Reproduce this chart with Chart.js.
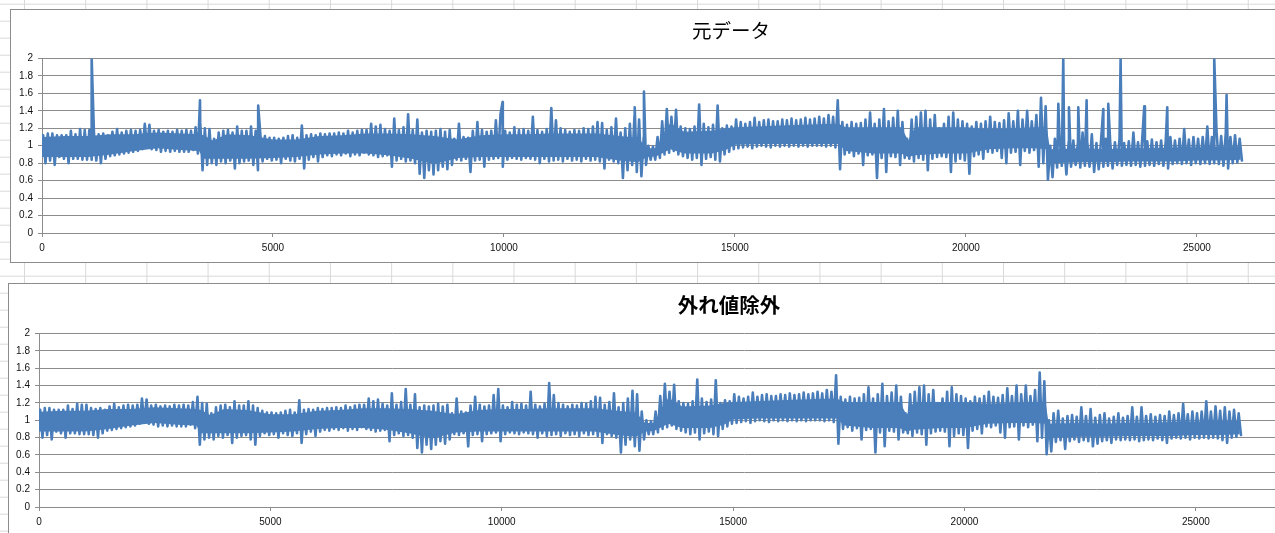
<!DOCTYPE html>
<html lang="ja">
<head>
<meta charset="utf-8">
<title>元データ / 外れ値除外</title>
<script src="https://cdn.jsdelivr.net/npm/chart.js@4.4.1/dist/chart.umd.min.js"></script>
<style>
  html, body { margin: 0; padding: 0; }
  body {
    width: 1275px; height: 533px; overflow: hidden; position: relative;
    background-color: #fff;
    /* worksheet cell grid behind the two charts */
    background-image:
      linear-gradient(to right, #d9d9d9 1px, transparent 1px),
      linear-gradient(to bottom, #d9d9d9 1px, transparent 1px);
    background-size: 61.2px 100%, 100% 17px;
    background-position: 24px 0, 0 3.7px;
  }
  .panel { position: absolute; background: #fff; border: 1px solid #8c8c8c; overflow: hidden; }
  #p1 { left: 10px; top: 9px; width: 1440px; height: 252px; }
  #p2 { left: 8px; top: 283px; width: 1440px; height: 260px; }
  canvas { position: absolute; left: 0; top: 0; }
</style>
</head>
<body>
<div class="panel" id="p1"><canvas id="c1" width="1440" height="252"></canvas></div>
<div class="panel" id="p2"><canvas id="c2" width="1440" height="252"></canvas></div>
<script>
// Series sampled in blocks of 100 rows: highest and lowest value of each block
// (cleaned series, outliers removed). Block k covers rows k*100 .. k*100+99.
const blockSize = 100;
const blockHigh = [
  1.12,1.14,1.14,1.12,1.12,1.12,1.17,1.13,1.19,1.18,
  1.18,1.14,1.13,1.14,1.12,1.16,1.19,1.15,1.17,1.18,
  1.17,1.18,1.25,1.24,1.17,1.18,1.16,1.17,1.16,1.18,
  1.17,1.18,1.17,1.21,1.27,1.20,1.19,1.08,1.15,1.17,
  1.18,1.15,1.22,1.17,1.17,1.22,1.17,1.14,1.11,1.09,
  1.09,1.08,1.09,1.11,1.12,1.09,1.23,1.12,1.13,1.12,
  1.14,1.13,1.14,1.14,1.15,1.14,1.17,1.15,1.17,1.18,
  1.18,1.25,1.22,1.24,1.19,1.17,1.31,1.18,1.21,1.36,
  1.18,1.30,1.15,1.17,1.16,1.17,1.19,1.16,1.18,1.08,
  1.25,1.10,1.09,1.17,1.27,1.18,1.16,1.17,1.29,1.36,
  1.17,1.15,1.21,1.18,1.19,1.17,1.33,1.18,1.16,1.19,
  1.43,1.29,1.20,1.18,1.16,1.18,1.17,1.20,1.19,1.22,
  1.27,1.26,1.18,1.21,1.31,1.15,1.20,1.25,1.34,1.30,
  1.10,1.00,0.99,1.10,1.28,1.42,1.33,1.41,1.22,1.20,
  1.19,1.22,1.47,1.25,1.21,1.24,1.46,1.20,1.23,1.22,
  1.30,1.27,1.25,1.27,1.32,1.27,1.29,1.30,1.28,1.28,
  1.30,1.29,1.31,1.29,1.30,1.32,1.30,1.31,1.33,1.31,
  1.35,1.33,1.52,1.27,1.24,1.27,1.25,1.26,1.30,1.38,
  1.25,1.30,1.42,1.28,1.32,1.40,1.27,1.08,1.30,1.33,
  1.38,1.40,1.30,1.35,1.20,1.25,1.33,1.38,1.30,1.28,
  1.25,1.22,1.27,1.25,1.28,1.33,1.27,1.26,1.29,1.37,
  1.28,1.40,1.30,1.40,1.28,1.35,1.55,1.45,1.00,1.08,
  1.11,1.02,1.05,1.06,1.04,1.15,1.05,1.13,1.03,1.06,
  1.08,1.02,1.04,1.08,1.03,1.05,1.15,1.04,1.15,1.05,
  1.07,1.04,1.06,1.05,1.10,1.06,1.08,1.19,1.07,1.10,
  1.08,1.10,1.22,1.10,1.16,1.11,1.15,1.10,1.12,1.08
];
const blockLow = [
  0.80,0.83,0.78,0.87,0.85,0.80,0.85,0.85,0.84,0.84,
  0.84,0.83,0.80,0.85,0.88,0.89,0.90,0.91,0.92,0.93,
  0.94,0.96,0.98,0.96,0.95,0.93,0.94,0.93,0.94,0.93,
  0.93,0.93,0.95,0.91,0.72,0.78,0.80,0.78,0.82,0.80,
  0.83,0.74,0.80,0.82,0.83,0.78,0.72,0.82,0.85,0.83,
  0.84,0.80,0.85,0.83,0.82,0.85,0.74,0.84,0.87,0.82,
  0.87,0.89,0.88,0.90,0.89,0.91,0.88,0.90,0.89,0.92,
  0.90,0.89,0.87,0.88,0.89,0.76,0.83,0.85,0.82,0.83,
  0.80,0.68,0.63,0.72,0.67,0.72,0.76,0.73,0.78,0.84,
  0.83,0.85,0.70,0.83,0.84,0.76,0.84,0.85,0.86,0.76,
  0.84,0.86,0.85,0.84,0.86,0.85,0.84,0.80,0.85,0.82,
  0.83,0.84,0.82,0.85,0.83,0.84,0.82,0.85,0.83,0.84,
  0.82,0.74,0.84,0.82,0.80,0.63,0.72,0.78,0.70,0.65,
  0.78,0.84,0.84,0.86,0.90,0.92,0.94,0.90,0.88,0.86,
  0.84,0.86,0.78,0.85,0.87,0.84,0.82,0.90,0.93,0.96,
  0.97,0.98,0.99,0.97,0.99,1.00,0.99,0.98,1.00,0.99,
  1.00,0.99,1.00,0.99,1.00,0.99,1.00,1.00,1.00,0.99,
  1.00,0.98,0.73,0.90,0.92,0.88,0.91,0.78,0.89,0.90,
  0.63,0.86,0.70,0.88,0.87,0.78,0.86,0.85,0.82,0.86,
  0.84,0.72,0.85,0.87,0.88,0.87,0.70,0.82,0.85,0.83,
  0.68,0.88,0.90,0.85,0.93,0.92,0.94,0.86,0.80,0.92,
  0.93,0.78,0.94,0.92,0.95,0.76,0.80,0.61,0.64,0.75,
  0.77,0.67,0.76,0.78,0.75,0.77,0.76,0.70,0.73,0.76,
  0.77,0.74,0.78,0.77,0.78,0.77,0.78,0.76,0.77,0.78,
  0.77,0.79,0.77,0.74,0.79,0.80,0.79,0.80,0.78,0.80,
  0.79,0.80,0.79,0.80,0.79,0.77,0.74,0.80,0.81,0.83
];

// Dense middle of the trace, where nearly every row falls (row, lower, upper)
const coreRow = [0, 500, 1000, 1500, 2000, 2500, 3000, 3400, 3500, 3700,
                 4000, 4500, 5000, 5500, 6000, 6500, 7000, 7500, 8000, 8500,
                 9000, 9500, 10000, 10500, 11000, 11500, 12000, 12500, 12900, 13100,
                 13300, 13600, 13900, 14500, 14800, 15000, 15500, 16000, 16500, 17000,
                 17250, 17400, 18000, 18600, 18750, 18900, 19500, 20000, 20500, 21000,
                 21500, 21750, 21820, 22500, 23000, 23500, 24000, 24500, 25000, 25500,
                 25950];
const coreLow = [0.87, 0.87, 0.87, 0.90, 0.94, 0.97, 0.95, 0.94, 0.85, 0.85,
                 0.85, 0.85, 0.86, 0.87, 0.90, 0.91, 0.91, 0.89, 0.85, 0.79,
                 0.86, 0.87, 0.87, 0.87, 0.87, 0.87, 0.87, 0.83, 0.81, 0.87,
                 0.88, 0.96, 0.91, 0.91, 0.95, 1.01, 1.02, 1.02, 1.02, 1.02,
                 1.02, 0.94, 0.91, 0.91, 0.87, 0.89, 0.91, 0.91, 0.96, 0.97,
                 0.97, 0.96, 0.80, 0.81, 0.81, 0.82, 0.82, 0.82, 0.83, 0.83,
                 0.84];
const coreHigh = [1.10, 1.11, 1.11, 1.13, 1.13, 1.15, 1.14, 1.13, 1.12, 1.06,
                  1.13, 1.12, 1.07, 1.07, 1.11, 1.12, 1.14, 1.14, 1.13, 1.11,
                  1.07, 1.12, 1.13, 1.13, 1.14, 1.14, 1.14, 1.11, 1.09, 0.97,
                  0.97, 1.26, 1.16, 1.17, 1.20, 1.21, 1.22, 1.23, 1.24, 1.25,
                  1.25, 1.21, 1.21, 1.21, 1.06, 1.21, 1.21, 1.21, 1.19, 1.20,
                  1.21, 1.21, 0.96, 0.97, 0.96, 0.97, 0.97, 0.98, 0.98, 0.99,
                  0.99];

// Outliers present only in the raw series (row number, value)
const outlierRow = [1075, 3420, 4680, 9970, 12830, 13030, 22000, 22107, 22230, 22432,
                    22612, 22973, 23081, 23348, 23860, 24358, 25375, 25642];
const outlierValue = [2.0, 1.52, 1.46, 1.50, 1.44, 1.62, 1.48, 2.0, 1.44, 1.44,
                      1.52, 1.42, 1.48, 2.0, 1.45, 1.44, 2.0, 1.58];

// Axis ticks
const xTicks = [0, 5000, 10000, 15000, 20000, 25000];
const yTicks = [0, 0.2, 0.4, 0.6, 0.8, 1, 1.2, 1.4, 1.6, 1.8, 2];

const LINE_COLOR = '#4a7ebb';
const GRID_COLOR = '#8c8c8c';
const LABEL_FONT = { family: '"Liberation Sans", Arial, sans-serif', size: 10 };

// Each block contributes its high then its low, so the trace sweeps the band.
function cleanedSeries() {
  const pts = [];
  blockHigh.forEach((hi, k) => {
    pts.push({ x: k * blockSize + 25, y: hi });
    pts.push({ x: k * blockSize + 75, y: blockLow[k] });
  });
  return pts;
}

function rawSeries() {
  const pts = cleanedSeries();
  outlierRow.forEach((row, i) => pts.push({ x: row, y: outlierValue[i] }));
  pts.sort((a, b) => a.x - b.x);
  return pts;
}

const coreUpper = () => coreRow.map((r, i) => ({ x: r, y: coreHigh[i] }));
const coreLower = () => coreRow.map((r, i) => ({ x: r, y: coreLow[i] }));

function drawPanel(canvasId, titleText, titleWeight, titleSize, points, axisWidth, xMax) {
  const plain = { pointRadius: 0, pointHoverRadius: 0, tension: 0 };
  return new Chart(document.getElementById(canvasId), {
    type: 'line',
    data: {
      datasets: [
        { ...plain, data: coreUpper(), borderWidth: 0, borderColor: 'rgba(0,0,0,0)', fill: false },
        { ...plain, data: coreLower(), borderWidth: 0, borderColor: 'rgba(0,0,0,0)',
          backgroundColor: LINE_COLOR, fill: '-1' },
        { ...plain, data: points, borderColor: LINE_COLOR, borderWidth: 2.6,
          borderJoinStyle: 'round', borderCapStyle: 'round', fill: false }
      ]
    },
    options: {
      responsive: false,
      animation: false,
      devicePixelRatio: 1,
      events: [],
      layout: { padding: 0 },
      plugins: {
        legend: { display: false },
        tooltip: { enabled: false },
        title: {
          display: true,
          text: titleText,
          color: '#000',
          font: { family: '"Noto Sans CJK JP", sans-serif', size: titleSize, weight: titleWeight },
          padding: { top: 9, bottom: 16 }
        }
      },
      scales: {
        x: {
          type: 'linear',
          min: 0,
          max: xMax,
          offset: false,
          afterBuildTicks: s => { s.ticks = xTicks.map(v => ({ value: v })); },
          afterFit: s => { s.height = 29; },
          grid: { drawOnChartArea: false, drawTicks: true, tickLength: 4, color: GRID_COLOR },
          border: { display: true, color: GRID_COLOR },
          ticks: { padding: 5, maxRotation: 0, autoSkip: false, color: '#111', font: LABEL_FONT,
                   callback: v => String(v) }
        },
        y: {
          min: 0,
          max: 2,
          afterBuildTicks: s => { s.ticks = yTicks.map(v => ({ value: v })); },
          afterFit: s => { s.width = axisWidth; },
          grid: { color: GRID_COLOR, tickLength: 4 },
          border: { display: true, color: GRID_COLOR },
          ticks: { padding: 5, autoSkip: false, color: '#111', font: LABEL_FONT,
                   callback: v => String(v) }
        }
      }
    }
  });
}

drawPanel('c1', '元データ', 'normal', 19.5, rawSeries(), 31, 30500);
drawPanel('c2', '外れ値除外', 'bold', 20.5, cleanedSeries(), 30, 30470);
</script>
</body>
</html>
